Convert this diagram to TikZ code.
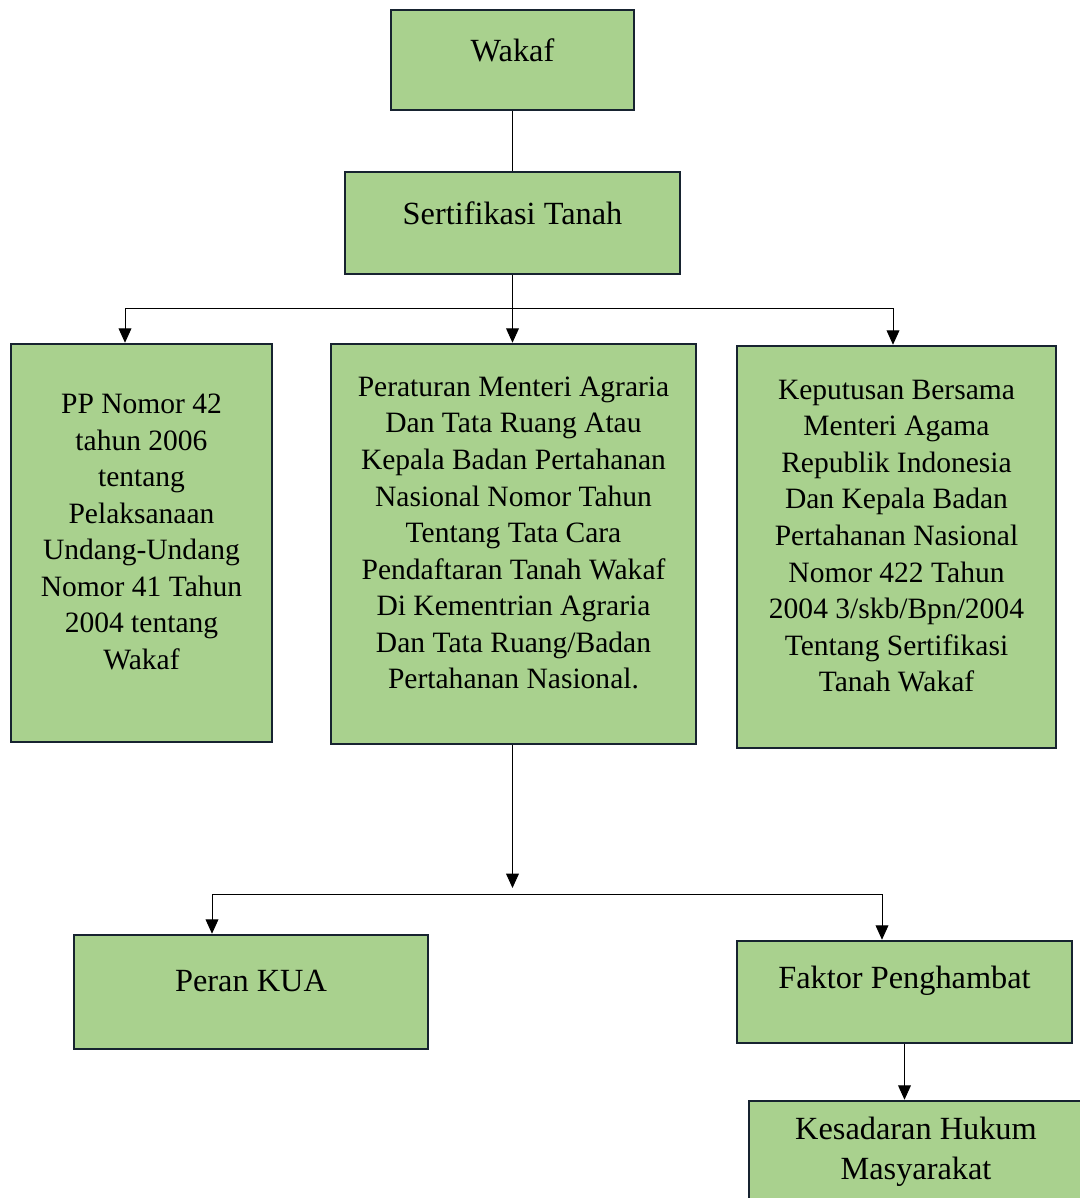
\documentclass[tikz,border=0pt]{standalone}
\usepackage{fontspec}
\setmainfont{Liberation Serif}
\usetikzlibrary{arrows.meta}
\definecolor{boxgreen}{HTML}{A9D18E}
\definecolor{boxline}{HTML}{172330}
\begin{document}
\begin{tikzpicture}[>={Triangle[length=3.6mm,width=3.2mm]},
	box/.style={draw=boxline,line width=1.8pt,fill=boxgreen,inner sep=0pt},
	lbl/.style={align=center,font=\fontsize{21}{26}\selectfont,inner sep=0pt},
	biglbl/.style={lbl,font=\fontsize{23}{28.5}\selectfont},
	conn/.style={line width=0.7pt}]
	\useasboundingbox (0,0) rectangle (27,-29.95);
	\clip (0,0) rectangle (27,-29.95);
	% boxes
	\node[box,minimum width=6.075cm,minimum height=2.5cm] (wakaf) at (12.8125,-1.5) {};
	\node[box,minimum width=8.375cm,minimum height=2.55cm] (sertifikasi) at (12.8125,-5.575) {};
	\node[box,minimum width=6.525cm,minimum height=9.95cm] (pp) at (3.5375,-13.575) {};
	\node[box,minimum width=9.125cm,minimum height=10cm] (permen) at (12.8375,-13.6) {};
	\node[box,minimum width=7.975cm,minimum height=10.05cm] (skb) at (22.4125,-13.675) {};
	\node[box,minimum width=8.85cm,minimum height=2.85cm] (kua) at (6.275,-24.8) {};
	\node[box,minimum width=8.375cm,minimum height=2.55cm] (faktor) at (22.6125,-24.8) {};
	\node[box,minimum width=8.35cm,minimum height=3.475cm] (kesadaran) at (22.9,-29.2625) {};
	% texts
	\node[biglbl] (wakaf-t) at (12.8125,-1.25) {Wakaf};
	\node[biglbl] (sertifikasi-t) at (12.8125,-5.325) {Sertifikasi Tanah};
	\node[lbl] (pp-t) at (3.5375,-13.3) {PP Nomor 42\\tahun 2006\\tentang\\Pelaksanaan\\Undang-Undang\\Nomor 41 Tahun\\2004 tentang\\Wakaf};
	\node[lbl] (permen-t) at (12.8375,-13.325) {Peraturan Menteri Agraria\\Dan Tata Ruang Atau\\Kepala Badan Pertahanan\\Nasional Nomor Tahun\\Tentang Tata Cara\\Pendaftaran Tanah Wakaf\\Di Kementrian Agraria\\Dan Tata Ruang/Badan\\Pertahanan Nasional.};
	\node[lbl] (skb-t) at (22.4125,-13.4) {Keputusan Bersama\\Menteri Agama\\Republik Indonesia\\Dan Kepala Badan\\Pertahanan Nasional\\Nomor 422 Tahun\\2004 3/skb/Bpn/2004\\Tentang Sertifikasi\\Tanah Wakaf};
	\node[biglbl] (kua-t) at (6.275,-24.525) {Peran KUA};
	\node[biglbl] (faktor-t) at (22.6125,-24.525) {Faktor Penghambat};
	\node[biglbl] (kesadaran-t) at (22.9,-28.8) {Kesadaran Hukum\\Masyarakat};
	% connectors
	\coordinate (jl) at (3.125,-7.7);
	\coordinate (jr) at (22.325,-7.7);
	\coordinate (tip) at (12.8125,-22.2);
	\coordinate (bl) at (5.3,-22.35);
	\coordinate (br) at (22.05,-22.35);
	\draw[conn] (wakaf.south) -- (sertifikasi.north);
	\draw[conn,->] (sertifikasi.south) -- (permen.north -| sertifikasi.south);
	\draw[conn] (jl) -- (jr);
	\draw[conn,->] (jl) -- (jl |- pp.north);
	\draw[conn,->] (jr) -- (jr |- skb.north);
	\draw[conn,->] (permen.south -| tip) -- (tip);
	\draw[conn] (bl) -- (br);
	\draw[conn,->] (bl) -- (bl |- kua.north);
	\draw[conn,->] (br) -- (br |- faktor.north);
	\draw[conn,->] (faktor.south) -- (faktor.south |- kesadaran.north);
\end{tikzpicture}
\end{document}
